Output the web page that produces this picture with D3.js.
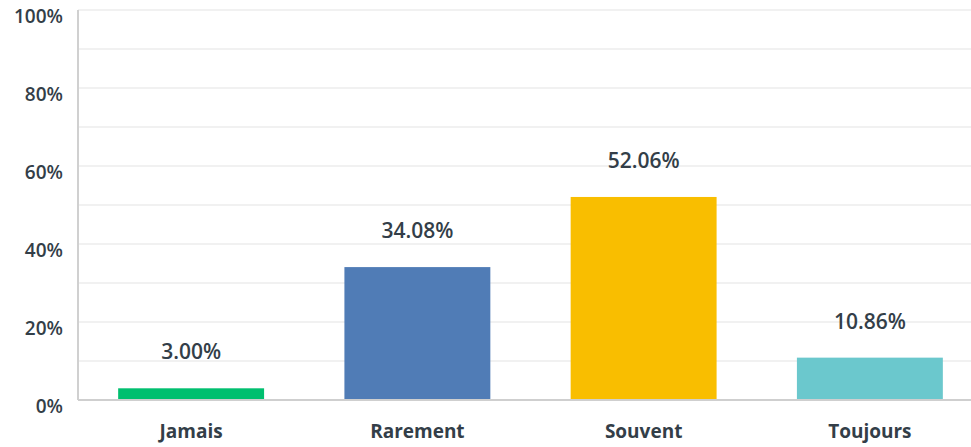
<!DOCTYPE html>
<html>
<head>
<meta charset="utf-8">
<script src="https://cdn.jsdelivr.net/npm/d3@7"></script>
<style>
  body { margin: 0; background: #fff; }
  text { font-family: "Open Sans", sans-serif; fill: #333e48; }
</style>
</head>
<body>
<svg id="chart" width="971" height="447"></svg>
<script>
// chart data
let categories = ['Jamais', 'Rarement', 'Souvent', 'Toujours'];
let percents = [3.00, 34.08, 52.06, 10.86];
let barColors = ['#00bf6f', '#507cb6', '#f9be00', '#6bc8cd'];
let tickValues = [0, 20, 40, 60, 80, 100];

let svg = d3.select('#chart');

let plotLeft = 78, plotTop = 10, plotBottom = 400, plotRight = 971;

let x = d3.scaleBand()
          .domain(categories)
          .range([plotLeft, 983])
          .paddingInner(0.355)
          .paddingOuter(0.1775);

let y = d3.scaleLinear()
          .domain([0, 100])
          .range([plotBottom, plotTop]);

// gridlines every 10%
svg.append('g')
   .selectAll('line')
   .data(d3.range(10, 101, 10))
   .enter()
   .append('line')
   .attr('x1', plotLeft)
   .attr('x2', plotRight)
   .attr('y1', (d) => y(d))
   .attr('y2', (d) => y(d))
   .attr('stroke', '#ececec')
   .attr('stroke-width', 1.5);

// y axis
let yAxis = d3.axisLeft(y)
              .tickValues(tickValues)
              .tickFormat((d) => d + '%')
              .tickSize(0)
              .tickPadding(15);

let yg = svg.append('g')
            .attr('transform', 'translate(' + plotLeft + ',0)')
            .call(yAxis);
yg.select('.domain').remove();
yg.selectAll('text')
  .attr('dy', '0.68em')
  .style('font-size', '19px')
  .style('font-weight', 600)
  .style('fill', '#333e48');

svg.append('line')
   .attr('x1', plotLeft).attr('x2', plotLeft)
   .attr('y1', plotTop).attr('y2', plotBottom)
   .attr('stroke', '#d0d0d0')
   .attr('stroke-width', 2);

// bars
svg.append('g')
   .selectAll('rect')
   .data(categories)
   .enter()
   .append('rect')
   .attr('x', (d) => x(d))
   .attr('width', x.bandwidth())
   .attr('y', (d, i) => y(percents[i]))
   .attr('height', (d, i) => plotBottom - y(percents[i]))
   .attr('fill', (d, i) => barColors[i]);

// baseline
svg.append('line')
   .attr('x1', plotLeft).attr('x2', plotRight)
   .attr('y1', plotBottom).attr('y2', plotBottom)
   .attr('stroke', '#cfcfcf')
   .attr('stroke-width', 2);

// value labels
svg.append('g')
   .selectAll('text')
   .data(categories)
   .enter()
   .append('text')
   .attr('x', (d) => x(d) + x.bandwidth() / 2)
   .attr('y', (d, i) => y(percents[i]) - 29)
   .attr('text-anchor', 'middle')
   .style('font-size', '21px')
   .style('font-weight', 600)
   .text((d, i) => percents[i].toFixed(2) + '%');

// x axis
let xAxis = d3.axisBottom(x).tickSize(0).tickPadding(25);
let xg = svg.append('g')
            .attr('transform', 'translate(0,' + plotBottom + ')')
            .call(xAxis);
xg.select('.domain').remove();
xg.selectAll('text')
  .style('font-size', '19px')
  .style('font-weight', 700)
  .style('fill', '#333e48');
</script>
</body>
</html>
